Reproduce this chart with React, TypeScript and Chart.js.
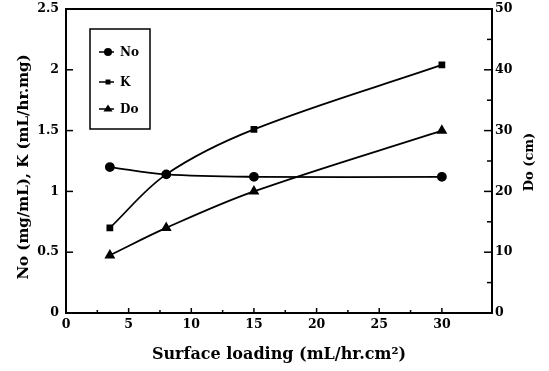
import React, { useEffect, useRef } from "react";
import { Chart, registerables } from "chart.js";
Chart.register(...registerables);

const surfaceLoading = [3.5, 8, 15, 30];
const noValues = [1.2, 1.14, 1.12, 1.12];
const kValues = [0.7, 1.14, 1.51, 2.04];
const doValues = [9.5, 14, 20, 30];
const seriesNames = ["No", "K", "Do"];
const xTitle = "Surface loading (mL/hr.cm\u00B2)";
const leftTitle = "No (mg/mL), K (mL/hr.mg)";
const rightTitle = "Do (cm)";

const FONT = "'DejaVu Serif', 'Liberation Serif', serif";

function drawMarker(ctx: CanvasRenderingContext2D, style: string, x: number, y: number, r: number) {
  ctx.beginPath();
  if (style === "circle") {
    ctx.arc(x, y, r, 0, Math.PI * 2);
  } else if (style === "rect") {
    const s = r * Math.SQRT1_2;
    ctx.rect(x - s, y - s, 2 * s, 2 * s);
  } else {
    ctx.moveTo(x, y - r);
    ctx.lineTo(x + r, y + r * 0.55);
    ctx.lineTo(x - r, y + r * 0.55);
    ctx.closePath();
  }
  ctx.fill();
}

const decor = {
  id: "decor",
  afterDraw(chart: any) {
    const { ctx, chartArea, scales } = chart;
    const { left, right, top, bottom } = chartArea;
    ctx.save();
    ctx.strokeStyle = "#000";
    ctx.fillStyle = "#000";
    ctx.lineWidth = 2;
    ctx.strokeRect(left, top, right - left, bottom - top);
    ctx.lineWidth = 1.5;
    const line = (x1: number, y1: number, x2: number, y2: number) => {
      ctx.beginPath();
      ctx.moveTo(x1, y1);
      ctx.lineTo(x2, y2);
      ctx.stroke();
    };
    const near = (v: number, step: number) => Math.abs(v / step - Math.round(v / step)) < 1e-6;
    scales.x.ticks.forEach((t: any) => {
      if (!near(t.value, 2.5) || t.value <= 0) return;
      const px = scales.x.getPixelForValue(t.value);
      line(px, bottom, px, bottom - (near(t.value, 5) ? 5 : 3));
    });
    scales.y.ticks.forEach((t: any) => {
      if (t.value <= 0 || t.value >= 2.5) return;
      const py = scales.y.getPixelForValue(t.value);
      line(left, py, left + 7, py);
    });
    scales.y1.ticks.forEach((t: any) => {
      if (t.value <= 0 || t.value >= 50) return;
      const py = scales.y1.getPixelForValue(t.value);
      line(right, py, right - (near(t.value, 10) ? 8 : 5), py);
    });

    // legend
    const lx = 90, ly = 29, lw = 60, lh = 100;
    ctx.lineWidth = 1.5;
    ctx.strokeRect(lx, ly, lw, lh);
    const styles = ["circle", "rect", "triangle"];
    const radii = [4, 3.5, 4.5];
    const ys = [52, 82, 109];
    ctx.font = `bold 12px ${FONT}`;
    ctx.textBaseline = "middle";
    ctx.textAlign = "left";
    seriesNames.forEach((name, i) => {
      ctx.lineWidth = 1.5;
      line(lx + 9, ys[i], lx + 24, ys[i]);
      drawMarker(ctx, styles[i], lx + 18, ys[i], radii[i]);
      ctx.fillText(name, lx + 30, ys[i] + 1);
    });

    // titles
    ctx.textAlign = "center";
    ctx.textBaseline = "middle";
    ctx.font = `bold 16px ${FONT}`;
    ctx.fillText(xTitle, (left + right) / 2, 355);
    ctx.save();
    ctx.font = `bold 15px ${FONT}`;
    ctx.translate(24, 167);
    ctx.rotate(-Math.PI / 2);
    ctx.fillText(leftTitle, 0, 0);
    ctx.restore();
    ctx.save();
    ctx.font = `bold 13px ${FONT}`;
    ctx.translate(530, 162);
    ctx.rotate(-Math.PI / 2);
    ctx.fillText(rightTitle, 0, 0);
    ctx.restore();
    ctx.restore();
  },
};

export default function App() {
  const ref = useRef<HTMLCanvasElement>(null);
  useEffect(() => {
    if (!ref.current) return;
    const tickFont = { family: FONT, size: 12.5, weight: "bold" as const };
    const common = {
      borderColor: "#000",
      backgroundColor: "#000",
      borderWidth: 1.8,
      tension: 0.35,
    };
    const chart = new Chart(ref.current, {
      type: "line",
      data: {
        datasets: [
          {
            ...common,
            label: seriesNames[0],
            data: surfaceLoading.map((x, i) => ({ x, y: noValues[i] })),
            yAxisID: "y",
            pointStyle: "circle",
            pointRadius: 4,
          },
          {
            ...common,
            label: seriesNames[1],
            data: surfaceLoading.map((x, i) => ({ x, y: kValues[i] })),
            yAxisID: "y",
            pointStyle: "rect",
            pointRadius: 3.5,
          },
          {
            ...common,
            label: seriesNames[2],
            data: surfaceLoading.map((x, i) => ({ x, y: doValues[i] })),
            yAxisID: "y1",
            pointStyle: "triangle",
            pointRadius: 4.5,
          },
        ],
      },
      options: {
        responsive: false,
        animation: false,
        layout: { padding: { top: 9, left: 0, right: 0, bottom: 0 } },
        plugins: { legend: { display: false }, tooltip: { enabled: false } },
        scales: {
          x: {
            type: "linear",
            min: 0,
            max: 34,
            grid: { display: false, drawTicks: false },
            border: { display: false },
            ticks: {
              stepSize: 2.5,
              padding: 4,
              autoSkip: false,
              maxRotation: 0,
              color: "#000",
              font: tickFont,
              callback: (v: any) => (v % 5 === 0 && v <= 30 ? String(v) : ""),
            },
            afterFit: (s: any) => {
              s.height = 58;
              s.paddingLeft = 0;
              s.paddingRight = 0;
            },
          },
          y: {
            position: "left",
            min: 0,
            max: 2.5,
            grid: { display: false, drawTicks: false },
            border: { display: false },
            ticks: {
              stepSize: 0.5,
              padding: 7,
              color: "#000",
              font: tickFont,
              callback: (v: any) => String(v),
            },
            afterFit: (s: any) => {
              s.width = 66;
              s.paddingTop = 0;
              s.paddingBottom = 0;
            },
          },
          y1: {
            position: "right",
            min: 0,
            max: 50,
            grid: { display: false, drawTicks: false },
            border: { display: false },
            ticks: {
              stepSize: 5,
              padding: 3,
              autoSkip: false,
              color: "#000",
              font: tickFont,
              callback: (v: any) => (v % 10 === 0 ? String(v) : ""),
            },
            afterFit: (s: any) => {
              s.width = 57;
              s.paddingTop = 0;
              s.paddingBottom = 0;
            },
          },
        },
      },
      plugins: [decor],
    });
    return () => chart.destroy();
  }, []);
  return (
    <div style={{ position: "absolute", left: 0, top: 0, width: 549, height: 371, background: "#fff" }}>
      <canvas ref={ref} width={549} height={371} />
    </div>
  );
}
